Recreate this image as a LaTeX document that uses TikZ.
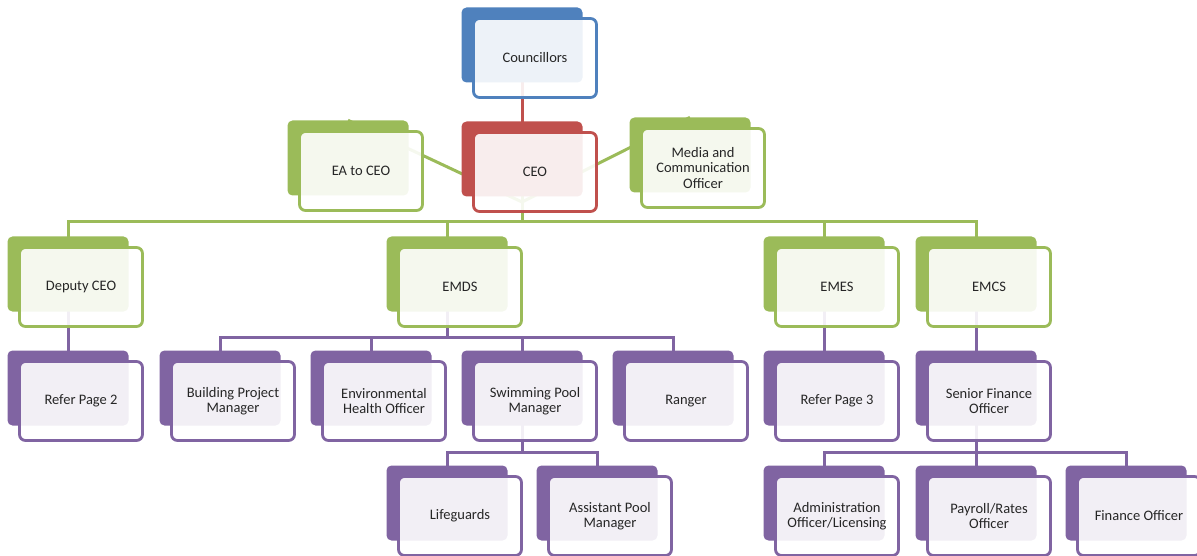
\documentclass[tikz,border=0pt]{standalone}
\usepackage{fontspec}
\setmainfont{Carlito}
\usepackage{xcolor}
\usepackage{tikz}

\definecolor{ccblue}{HTML}{4F81BD}
\definecolor{ccred}{HTML}{C0504D}
\definecolor{ccgreen}{HTML}{9BBB59}
\definecolor{ccpurple}{HTML}{8064A2}
\pgfdeclarelayer{bg}
\pgfsetlayers{bg,main}

\begin{document}
\begin{tikzpicture}[x=1pt,y=-1pt,
    back/.style={fill=#1,rounded corners=5pt,minimum width=121pt,minimum height=75pt,inner sep=0pt},
    front/.style={draw=#1,line width=2.8pt,fill=white,fill opacity=.9,text opacity=1,rounded corners=6pt,
        minimum width=123pt,minimum height=79pt,inner sep=0pt,align=center,text=black!85,
        font=\fontsize{14.5}{15.5}\selectfont},
    link/.style={draw=#1,line width=3pt}]
            \useasboundingbox (0,0) rectangle (1197,556);
            % top
            \node[back=ccblue] (coun-b) at (522,45) {};
            \node[front=ccblue] (coun) at (535,58) {Councillors};
            \node[back=ccgreen] (ea-b) at (348,158) {};
            \node[front=ccgreen] (ea) at (361,171) {EA to CEO};
            \node[back=ccred] (ceo-b) at (522,159) {};
            \node[front=ccred] (ceo) at (535,172) {CEO};
            \node[back=ccgreen] (med-b) at (690,155) {};
            \node[front=ccgreen] (med) at (703,168) {Media and\\Communication\\Officer};
            % directors
            \node[back=ccgreen] (dep-b) at (68,274) {};
            \node[front=ccgreen] (dep) at (81,287) {Deputy CEO};
            \node[back=ccgreen] (emds-b) at (447,274) {};
            \node[front=ccgreen] (emds) at (460,287) {EMDS};
            \node[back=ccgreen] (emes-b) at (824,274) {};
            \node[front=ccgreen] (emes) at (837,287) {EMES};
            \node[back=ccgreen] (emcs-b) at (976,274) {};
            \node[front=ccgreen] (emcs) at (989,287) {EMCS};
            % staff
            \node[back=ccpurple] (ref2-b) at (68,388) {};
            \node[front=ccpurple] (ref2) at (81,401) {Refer Page 2};
            \node[back=ccpurple] (bpm-b) at (220,388) {};
            \node[front=ccpurple] (bpm) at (233,401) {Building Project\\Manager};
            \node[back=ccpurple] (eho-b) at (371,388) {};
            \node[front=ccpurple] (eho) at (384,401) {Environmental\\Health Officer};
            \node[back=ccpurple] (spm-b) at (522,388) {};
            \node[front=ccpurple] (spm) at (535,401) {Swimming Pool\\Manager};
            \node[back=ccpurple] (rng-b) at (673,388) {};
            \node[front=ccpurple] (rng) at (686,401) {Ranger};
            \node[back=ccpurple] (ref3-b) at (824,388) {};
            \node[front=ccpurple] (ref3) at (837,401) {Refer Page 3};
            \node[back=ccpurple] (sfo-b) at (976,388) {};
            \node[front=ccpurple] (sfo) at (989,401) {Senior Finance\\Officer};
            % bottom row
            \node[back=ccpurple] (lg-b) at (447,503) {};
            \node[front=ccpurple] (lg) at (460,516) {Lifeguards};
            \node[back=ccpurple] (apm-b) at (597,503) {};
            \node[front=ccpurple] (apm) at (610,516) {Assistant Pool\\Manager};
            \node[back=ccpurple] (adm-b) at (824,503) {};
            \node[front=ccpurple] (adm) at (837,516) {Administration\\Officer/Licensing};
            \node[back=ccpurple] (pay-b) at (976,503) {};
            \node[front=ccpurple] (pay) at (989,516) {Payroll/Rates\\Officer};
            \node[back=ccpurple] (fin-b) at (1126,503) {};
            \node[front=ccpurple] (fin) at (1139,516) {Finance Officer};
            \coordinate (asst) at (522,202);
            \coordinate (bus1) at (522,222);
            \coordinate (bus2) at (447,337);
            \coordinate (bus3) at (522,452);
            \coordinate (bus4) at (976,452);
            \begin{pgfonlayer}{bg}
              \draw[link=ccred] (coun-b.center)--(ceo-b.center);
              \draw[link=ccgreen] (asst)--(ea-b.north);
              \draw[link=ccgreen] (asst)--(med-b.north);
              \draw[link=ccgreen] (ceo-b.center)--(bus1);
              \draw[link=ccgreen] (bus1)-|(dep-b.center);
              \draw[link=ccgreen] (bus1)-|(emds-b.center);
              \draw[link=ccgreen] (bus1)-|(emes-b.center);
              \draw[link=ccgreen] (bus1)-|(emcs-b.center);
              \draw[link=ccpurple] (dep-b.center)--(ref2-b.center);
              \draw[link=ccpurple] (emds-b.center)--(bus2);
              \draw[link=ccpurple] (bus2)-|(bpm-b.center);
              \draw[link=ccpurple] (bus2)-|(eho-b.center);
              \draw[link=ccpurple] (bus2)-|(spm-b.center);
              \draw[link=ccpurple] (bus2)-|(rng-b.center);
              \draw[link=ccpurple] (spm-b.center)--(bus3);
              \draw[link=ccpurple] (bus3)-|(lg-b.center);
              \draw[link=ccpurple] (bus3)-|(apm-b.center);
              \draw[link=ccpurple] (emes-b.center)--(ref3-b.center);
              \draw[link=ccpurple] (emcs-b.center)--(sfo-b.center);
              \draw[link=ccpurple] (sfo-b.center)--(bus4);
              \draw[link=ccpurple] (bus4)-|(adm-b.center);
              \draw[link=ccpurple] (bus4)-|(pay-b.center);
              \draw[link=ccpurple] (bus4)-|(fin-b.center);
            \end{pgfonlayer}
            \end{tikzpicture}
\end{document}
